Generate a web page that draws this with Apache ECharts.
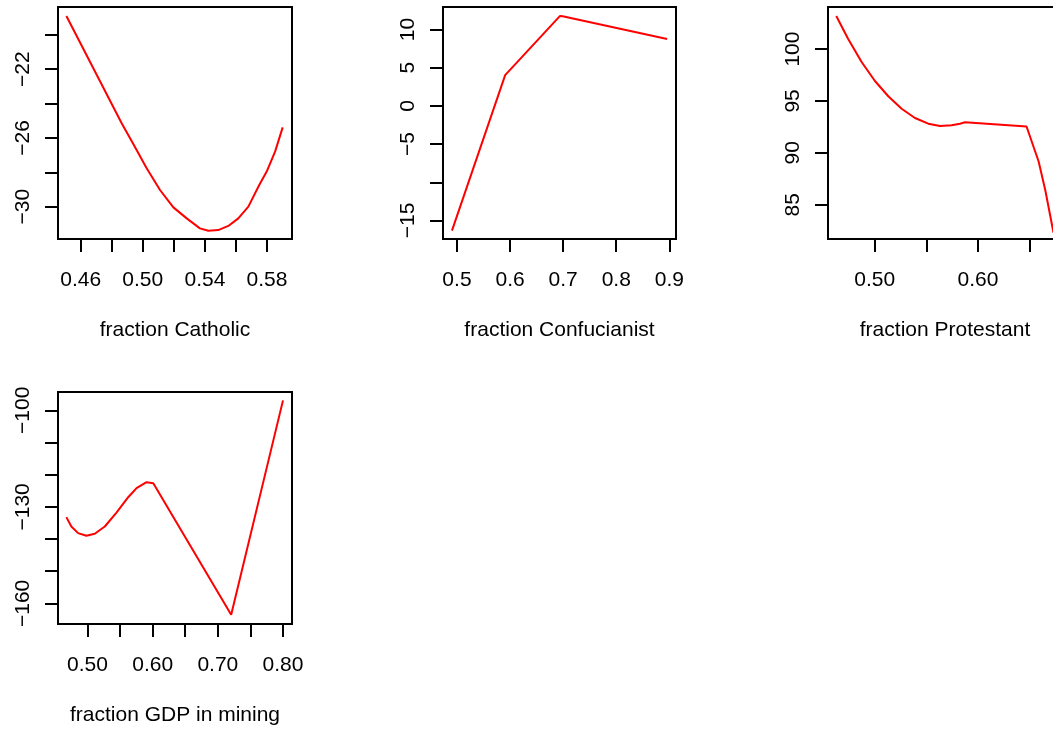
<!DOCTYPE html>
<html>
<head>
<meta charset="utf-8">
<script src="https://cdn.jsdelivr.net/npm/echarts@6/dist/echarts.min.js"></script>
<style>
html,body{margin:0;padding:0;background:#fff;overflow:hidden;}
#chart{width:1080px;height:731px;}
</style>
</head>
<body>
<div id="chart"></div>
<script>
// ---- data ----
const catholicX = [0.4508,0.4864,0.4939,0.5025,0.5111,0.5197,0.5283,0.5368,0.5422,0.5486,0.5551,0.5615,0.5680,0.5750,0.5798,0.5852,0.5901];
const catholicY = [-18.91,-25.15,-26.35,-27.77,-29.03,-30.04,-30.68,-31.26,-31.40,-31.36,-31.12,-30.68,-30.00,-28.74,-27.96,-26.80,-25.39];

const confucianX = [0.4906,0.5908,0.6942,0.6990,0.8959];
const confucianY = [-16.34,4.03,11.78,11.75,8.77];

const protestantX = [0.4629,0.4743,0.4874,0.5003,0.5132,0.5261,0.5390,0.5519,0.5632,0.5744,0.5826,0.5874,0.6469,0.6586,0.6650,0.6730];
const protestantY = [103.18,100.99,98.75,96.92,95.45,94.25,93.36,92.81,92.59,92.65,92.81,92.94,92.54,89.17,86.42,82.30];

const miningX = [0.4676,0.4753,0.4856,0.4983,0.5112,0.5266,0.5445,0.5625,0.5753,0.5906,0.6010,0.7205,0.8000];
const miningY = [-133.19,-136.1,-138.15,-138.99,-138.37,-136.1,-131.76,-127.0,-124.19,-122.33,-122.64,-163.5,-96.9];

const titles = ["fraction Catholic","fraction Confucianist","fraction Protestant","fraction GDP in mining"];

const xTicks = [
  [0.46,0.48,0.50,0.52,0.54,0.56,0.58],
  [0.5,0.6,0.7,0.8,0.9],
  [0.50,0.55,0.60,0.65],
  [0.50,0.55,0.60,0.65,0.70,0.75,0.80]
];
const xLabels = [
  [0.46,0.50,0.54,0.58],
  [0.5,0.6,0.7,0.8,0.9],
  [0.50,0.60],
  [0.50,0.60,0.70,0.80]
];
const xDecimals = [2,1,2,2];
const yTicks = [
  [-30,-28,-26,-24,-22,-20],
  [-15,-10,-5,0,5,10],
  [85,90,95,100],
  [-160,-150,-140,-130,-120,-110,-100]
];
const yLabels = [
  [-30,-26,-22],
  [-15,-5,0,5,10],
  [85,90,95,100],
  [-160,-130,-100]
];

// ---- layout ----
const grids = [
  {left:58, top:7, width:234, height:232},
  {left:443, top:7, width:233, height:232},
  {left:828, top:7, width:234, height:232},
  {left:58, top:392, width:234, height:232}
];
const xRanges = [[0.4454,0.5961],[0.4737,0.9126],[0.4549,0.6812],[0.4548,0.8138]];
const yRanges = [[-31.88,-18.39],[-17.43,12.95],[81.7,104.05],[-166.4,-94.3]];
const seriesX = [catholicX, confucianX, protestantX, miningX];
const seriesY = [catholicY, confucianY, protestantY, miningY];

const FONT = '"Liberation Sans", Arial, Helvetica, sans-serif';
const FS = 21;

const option = {
  animation:false,
  backgroundColor:'#ffffff',
  grid: grids.map(g => Object.assign({show:true, borderColor:'#000', borderWidth:2, backgroundColor:'transparent', containLabel:false}, g)),
  xAxis: grids.map((g,i) => ({
    type:'value', gridIndex:i, min:xRanges[i][0], max:xRanges[i][1],
    name: titles[i], nameLocation:'middle', nameGap:81,
    nameTextStyle:{fontFamily:FONT, fontSize:FS, color:'#000'},
    axisLine:{show:false, onZero:false},
    splitLine:{show:false},
    axisTick:{show:true, length:13, inside:false, customValues:xTicks[i], lineStyle:{color:'#000', width:2}},
    axisLabel:{show:true, customValues:xLabels[i], margin:31, fontFamily:FONT, fontSize:FS, color:'#000',
      formatter: v => Number(v).toFixed(xDecimals[i])}
  })),
  yAxis: grids.map((g,i) => ({
    type:'value', gridIndex:i, min:yRanges[i][0], max:yRanges[i][1],
    axisLine:{show:false, onZero:false},
    splitLine:{show:false},
    axisTick:{show:true, length:13, inside:false, customValues:yTicks[i], lineStyle:{color:'#000', width:2}},
    axisLabel:{show:true, customValues:yLabels[i], rotate:90, margin:24, align:'center', verticalAlign:'bottom',
      fontFamily:FONT, fontSize:FS, color:'#000',
      formatter: v => String(v).replace('-', '\u2212')}
  })),
  series: seriesX.map((xs,i) => ({
    type:'line', xAxisIndex:i, yAxisIndex:i, showSymbol:false, symbol:'none',
    lineStyle:{color:'#ff0000', width:2}, clip:true,
    data: xs.map((x,j) => [x, seriesY[i][j]])
  }))
};

const chart = echarts.init(document.getElementById('chart'), null, {renderer:'canvas'});
chart.setOption(option);
</script>
</body>
</html>
